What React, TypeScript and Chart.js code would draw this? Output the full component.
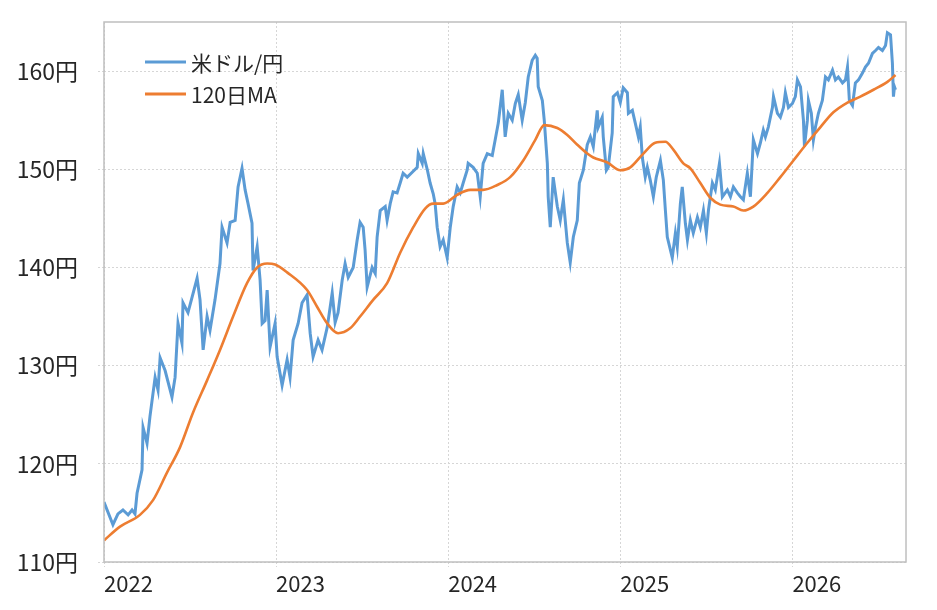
import React, { useEffect, useRef } from "react";
import { Chart, registerables } from "chart.js";

Chart.register(...registerables);

// USD/JPY (decimal year, rate)
const fxYear = [
  0.0, 0.052, 0.081, 0.11, 0.14, 0.163, 0.18, 0.192, 0.221, 0.227, 0.25, 0.267, 0.297, 0.314, 0.326, 0.355,
  0.395, 0.413, 0.43, 0.453, 0.459, 0.488, 0.541, 0.558, 0.576, 0.599, 0.616, 0.645, 0.674, 0.686, 0.715,
  0.733, 0.762, 0.779, 0.802, 0.82, 0.837, 0.86, 0.866, 0.89, 0.907, 0.919, 0.936, 0.948, 0.965, 0.994,
  1.006, 1.035, 1.064, 1.081, 1.099, 1.128, 1.151, 1.18, 1.198, 1.215, 1.244, 1.267, 1.297, 1.326, 1.343,
  1.36, 1.384, 1.401, 1.419, 1.448, 1.471, 1.488, 1.506, 1.517, 1.529, 1.558, 1.576, 1.587, 1.605, 1.634,
  1.645, 1.663, 1.68, 1.703, 1.721, 1.738, 1.762, 1.791, 1.82, 1.826, 1.849, 1.855, 1.878, 1.895, 1.913,
  1.924, 1.936, 1.953, 1.971, 1.994, 2.012, 2.029, 2.052, 2.07, 2.087, 2.11, 2.116, 2.145, 2.169, 2.186,
  2.203, 2.227, 2.256, 2.273, 2.291, 2.314, 2.331, 2.349, 2.372, 2.39, 2.407, 2.43, 2.448, 2.465, 2.488,
  2.506, 2.517, 2.523, 2.547, 2.558, 2.576, 2.581, 2.593, 2.61, 2.634, 2.651, 2.669, 2.692, 2.709, 2.727,
  2.75, 2.762, 2.785, 2.808, 2.826, 2.843, 2.866, 2.872, 2.895, 2.901, 2.919, 2.93, 2.953, 2.959, 2.983,
  3.0, 3.017, 3.041, 3.047, 3.07, 3.087, 3.105, 3.116, 3.128, 3.145, 3.157, 3.174, 3.192, 3.209, 3.233,
  3.25, 3.262, 3.273, 3.291, 3.302, 3.32, 3.331, 3.349, 3.36, 3.378, 3.39, 3.407, 3.424, 3.448, 3.465,
  3.483, 3.5, 3.512, 3.535, 3.552, 3.576, 3.593, 3.622, 3.64, 3.657, 3.68, 3.698, 3.715, 3.738, 3.756,
  3.767, 3.773, 3.797, 3.814, 3.831, 3.843, 3.86, 3.884, 3.89, 3.913, 3.93, 3.948, 3.959, 3.977, 4.0,
  4.017, 4.029, 4.047, 4.064, 4.07, 4.087, 4.093, 4.11, 4.122, 4.134, 4.151, 4.174, 4.192, 4.209, 4.233,
  4.25, 4.267, 4.291, 4.308, 4.32, 4.331, 4.349, 4.366, 4.384, 4.407, 4.424, 4.442, 4.465, 4.483, 4.5,
  4.523, 4.541, 4.552, 4.57, 4.581, 4.587, 4.593, 4.599,
];
const fxRate = [
  116.1, 113.8, 114.9, 115.3, 114.8, 115.3, 114.9, 117.0, 119.4, 123.7, 122.1, 124.8, 128.8, 127.5, 130.8, 129.5,
  126.8, 128.8, 134.3, 132.3, 136.4, 135.4, 138.9, 136.7, 131.6, 135.0, 133.6, 136.7, 140.4, 144.1, 142.5,
  144.6, 144.8, 148.2, 150.1, 147.9, 146.5, 144.5, 139.7, 142.1, 138.7, 134.3, 134.6, 137.7, 131.9, 134.3,
  130.9, 128.0, 130.6, 128.8, 132.6, 134.3, 136.4, 137.2, 133.3, 130.9, 132.6, 131.6, 133.9, 137.4, 134.4,
  135.4, 138.7, 140.4, 139.0, 140.0, 142.8, 144.6, 144.1, 141.8, 138.0, 140.0, 139.4, 143.1, 145.8, 146.2,
  144.8, 146.5, 147.7, 147.6, 148.6, 149.6, 149.2, 149.7, 150.2, 151.6, 150.6, 151.6, 150.0, 148.6, 147.5,
  146.5, 144.1, 142.1, 142.8, 141.0, 144.1, 146.2, 148.2, 147.6, 148.6, 149.9, 150.6, 150.2, 149.6, 147.2,
  150.6, 151.6, 151.4, 153.0, 154.7, 158.1, 153.3, 155.7, 155.0, 156.7, 157.6, 155.0, 156.8, 159.4, 161.1,
  161.6, 161.3, 158.4, 157.0, 155.0, 150.6, 147.2, 144.1, 149.2, 146.2, 144.8, 146.9, 142.5, 140.5, 143.1,
  144.8, 148.6, 149.9, 152.5, 153.3, 152.3, 156.0, 154.3, 155.3, 153.3, 149.9, 150.2, 153.7, 157.4, 157.8,
  156.8, 158.3, 157.8, 155.7, 156.0, 154.7, 153.3, 154.3, 151.2, 149.2, 150.2, 148.9, 147.2, 149.2, 150.9,
  148.9, 145.8, 143.1, 141.8, 141.0, 143.5, 142.1, 146.5, 148.2, 144.5, 142.8, 144.8, 143.5, 145.1, 144.1,
  145.8, 143.5, 145.8, 148.6, 147.9, 150.6, 147.2, 147.9, 147.2, 148.2, 147.6, 147.2, 146.9, 149.6, 147.2,
  150.9, 153.0, 151.6, 152.7, 154.0, 153.3, 154.3, 156.3, 157.4, 155.7, 155.3, 156.3, 157.8, 156.3, 156.7,
  157.4, 159.1, 158.4, 155.0, 152.3, 155.0, 157.0, 155.7, 153.0, 154.3, 155.7, 157.0, 159.4, 159.1, 160.1,
  159.1, 159.4, 158.8, 159.1, 160.4, 157.0, 156.5, 158.8, 159.1, 159.8, 160.4, 160.8, 161.8, 162.1, 162.4,
  162.1, 162.6, 163.9, 163.7, 160.8, 157.4, 158.4, 158.1,
];

// 120-day moving average (decimal year, rate)
const maYear = [
  0.0, 0.093, 0.209, 0.285, 0.366, 0.442, 0.517, 0.599, 0.674, 0.75, 0.831, 0.89, 0.948, 0.994, 1.064, 1.18,
  1.238, 1.297, 1.36, 1.43, 1.488, 1.564, 1.645, 1.721, 1.797, 1.866, 1.913, 1.971, 2.052, 2.128, 2.203,
  2.285, 2.36, 2.436, 2.506, 2.558, 2.634, 2.692, 2.75, 2.808, 2.843, 2.924, 3.0, 3.058, 3.134, 3.203,
  3.262, 3.308, 3.366, 3.407, 3.465, 3.523, 3.581, 3.657, 3.715, 3.773, 3.855, 3.93, 4.006, 4.087, 4.163,
  4.238, 4.32, 4.395, 4.471, 4.552, 4.599,
];
const maRate = [
  112.2, 113.6, 114.8, 116.3, 119.1, 121.7, 125.2, 128.5, 131.6, 135.0, 138.4, 140.0, 140.4, 140.3, 139.5, 137.7,
  136.0, 134.3, 133.3, 133.8, 135.0, 136.7, 138.4, 141.5, 144.1, 146.0, 146.5, 146.5, 147.4, 147.9, 147.9,
  148.4, 149.2, 150.9, 153.0, 154.5, 154.2, 153.5, 152.5, 151.6, 151.2, 150.7, 149.9, 150.2, 151.6, 152.7,
  152.8, 152.0, 150.6, 150.1, 148.6, 147.1, 146.4, 146.2, 145.8, 146.2, 147.6, 149.2, 150.9, 152.7, 154.3,
  155.8, 156.8, 157.4, 158.1, 158.9, 159.6,
];

const baseYear = 2022;
const yearTicks = [2022, 2023, 2024, 2025, 2026];
const yenTicks = [110, 120, 130, 140, 150, 160];
const seriesNames = ["米ドル/円", "120日MA"];
const BLUE = "#5b9bd5";
const ORANGE = "#ed7d31";
const FONT = '"Noto Sans CJK JP", "Noto Sans", sans-serif';

export default function App() {
  const ref = useRef<HTMLCanvasElement | null>(null);

  useEffect(() => {
    if (!ref.current) return;
    const frame = {
      id: "frameLegend",
      afterDraw(chart: any) {
        const { ctx, chartArea } = chart;
        ctx.save();
        ctx.strokeStyle = "#bfbfbf";
        ctx.lineWidth = 1.5;
        ctx.strokeRect(chartArea.left, chartArea.top, chartArea.right - chartArea.left, chartArea.bottom - chartArea.top);
        const items = [
          { name: seriesNames[0], color: BLUE, y: 62 },
          { name: seriesNames[1], color: ORANGE, y: 94 },
        ];
        ctx.font = `21px ${FONT}`;
        ctx.textBaseline = "middle";
        ctx.textAlign = "left";
        for (const it of items) {
          ctx.strokeStyle = it.color;
          ctx.lineWidth = 3;
          ctx.beginPath();
          ctx.moveTo(145, it.y);
          ctx.lineTo(186, it.y);
          ctx.stroke();
          ctx.fillStyle = "#262626";
          ctx.fillText(it.name, 191, it.y + 1);
        }
        ctx.restore();
      },
    };

    const chart = new Chart(ref.current, {
      type: "line",
      data: {
        datasets: [
          {
            label: seriesNames[1],
            data: maYear.map((x, i) => ({ x: baseYear + x, y: maRate[i] })),
            borderColor: ORANGE,
            borderWidth: 2.6,
            pointRadius: 0,
            tension: 0.4,
            cubicInterpolationMode: "monotone",
            order: 0,
          },
          {
            label: seriesNames[0],
            data: fxYear.map((x, i) => ({ x: baseYear + x, y: fxRate[i] })),
            borderColor: BLUE,
            borderWidth: 3,
            pointRadius: 0,
            tension: 0,
            order: 1,
          },
        ],
      },
      options: {
        animation: false,
        responsive: true,
        maintainAspectRatio: false,
        layout: { padding: { top: 22, right: 31, left: 0, bottom: 0 } },
        plugins: { legend: { display: false }, tooltip: { enabled: false } },
        scales: {
          x: {
            type: "linear",
            min: 2022,
            max: 2026.66,
            afterBuildTicks: (axis: any) => {
              axis.ticks = yearTicks.map((v) => ({ value: v }));
            },
            afterFit: (axis: any) => {
              axis.height = 48;
              axis.paddingLeft = 0;
              axis.paddingRight = 0;
            },
            ticks: {
              align: "start",
              padding: 3,
              color: "#262626",
              font: { family: FONT, size: 22 },
              callback: (v: any) => String(v),
            },
            grid: { color: "#d6d6d6", lineWidth: 1, tickLength: 5, tickBorderDash: [2, 2] },
            border: { display: false, dash: [2, 2] },
          },
          y: {
            type: "linear",
            min: 110,
            max: 165,
            afterBuildTicks: (axis: any) => {
              axis.ticks = yenTicks.map((v) => ({ value: v }));
            },
            afterFit: (axis: any) => {
              axis.width = 104;
              axis.paddingTop = 0;
              axis.paddingBottom = 0;
            },
            ticks: {
              padding: 20,
              color: "#262626",
              font: { family: FONT, size: 23 },
              callback: (v: any) => `${v}円`,
            },
            grid: { color: "#d6d6d6", lineWidth: 1, tickLength: 6, tickBorderDash: [2, 2] },
            border: { display: false, dash: [2, 2] },
          },
        },
      },
      plugins: [frame],
    } as any);
    return () => chart.destroy();
  }, []);

  return (
    <div style={{ position: "fixed", left: 0, top: 0, width: 937, height: 610, background: "#fff" }}>
      <canvas ref={ref} />
    </div>
  );
}
